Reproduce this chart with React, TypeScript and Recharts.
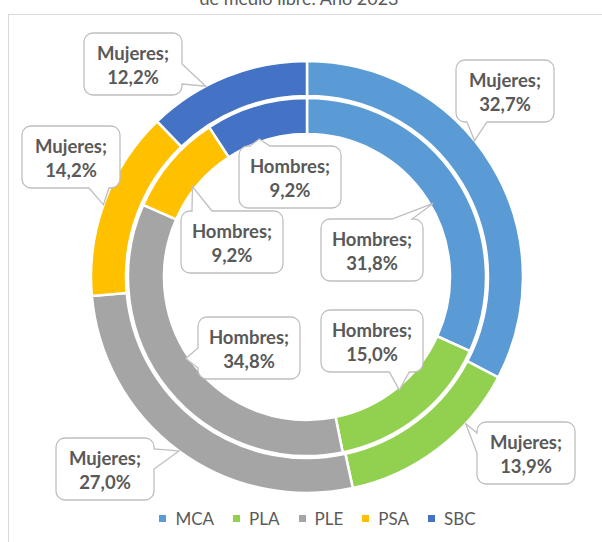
import { PieChart, Pie, Cell, Legend } from 'recharts';

const categories = ['MCA', 'PLA', 'PLE', 'PSA', 'SBC'];
const mujeres = [32.7, 13.9, 27.0, 14.2, 12.2];
const hombres = [31.8, 15.0, 34.8, 9.2, 9.2];
const colors = ['#5B9BD5', '#92D050', '#A5A5A5', '#FFC000', '#4472C4'];

// callout layout: box centre relative to the pie centre, and how far (degrees, clockwise)
// the pointer tip is moved off the slice's mid angle
const mujeresBoxPos = [[198, -186], [219, 176], [-202, 192], [-236, -120], [-174, -213]];
const mujeresTipShift = [-8, -10, 0, -1, -6];
const hombresBoxPos = [[65, -27], [65, 64], [-58, 71], [-75, -35], [-17, -100]];
const hombresTipShift = [2.5, -0.7, 5, -2, -2.5];

const mujeresData = categories.map((name, i) => ({ name, value: mujeres[i] }));
const hombresData = categories.map((name, i) => ({ name, value: hombres[i] }));

const RAD = Math.PI / 180;
const TEXT = '#595959';
const FONT = 'Lato, sans-serif';

function calloutPath(x: number, y: number, w: number, h: number, r: number, tx: number, ty: number) {
  const cx = x + w / 2;
  const cy = y + h / 2;
  const horiz = Math.abs(tx - cx) / (w / 2) > Math.abs(ty - cy) / (h / 2);
  const side = horiz ? (tx > cx ? 'right' : 'left') : ty > cy ? 'bottom' : 'top';
  const half = 10;
  const clamp = (v: number, lo: number, hi: number) => Math.min(Math.max(v, lo), hi);
  const bx = clamp(tx, x + r + half + 2, x + w - r - half - 2);
  const by = clamp(ty, y + r + half + 2, y + h - r - half - 2);
  let d = `M${x + r},${y}`;
  if (side === 'top') d += ` L${bx - half},${y} L${tx},${ty} L${bx + half},${y}`;
  d += ` L${x + w - r},${y} A${r},${r} 0 0 1 ${x + w},${y + r}`;
  if (side === 'right') d += ` L${x + w},${by - half} L${tx},${ty} L${x + w},${by + half}`;
  d += ` L${x + w},${y + h - r} A${r},${r} 0 0 1 ${x + w - r},${y + h}`;
  if (side === 'bottom') d += ` L${bx + half},${y + h} L${tx},${ty} L${bx - half},${y + h}`;
  d += ` L${x + r},${y + h} A${r},${r} 0 0 1 ${x},${y + h - r}`;
  if (side === 'left') d += ` L${x},${by + half} L${tx},${ty} L${x},${by - half}`;
  d += ` L${x},${y + r} A${r},${r} 0 0 1 ${x + r},${y} Z`;
  return d;
}

function makeLabel(group: string, boxPos: number[][], tipShift: number[], outer: boolean, boxW: number) {
  return (props: any) => {
    const { cx, cy, midAngle, innerRadius, outerRadius, index, value } = props;
    const r = outer ? outerRadius : innerRadius + 3;
    const a = (midAngle - tipShift[index]) * RAD;
    const tx = cx + r * Math.cos(-a);
    const ty = cy + r * Math.sin(-a);
    const bcx = cx + boxPos[index][0];
    const bcy = cy + boxPos[index][1];
    const boxH = 62;
    const x = bcx - boxW / 2;
    const y = bcy - boxH / 2;
    return (
      <g key={`${group}-${index}`}>
        <path d={calloutPath(x, y, boxW, boxH, 9, tx, ty)} fill="#fff" stroke="#BFBFBF" strokeWidth={1.3} />
        <text x={bcx} y={bcy - 4} textAnchor="middle" fill={TEXT} fontFamily={FONT} fontWeight={700} fontSize={18.5}>
          {group};
        </text>
        <text x={bcx} y={bcy + 20} textAnchor="middle" fill={TEXT} fontFamily={FONT} fontWeight={700} fontSize={18.5}>
          {value.toFixed(1).replace('.', ',')}%
        </text>
      </g>
    );
  };
}

function LegendRow() {
  return (
    <div style={{ display: 'flex', justifyContent: 'center', gap: 19, fontFamily: FONT, fontSize: 17, color: TEXT }}>
      {categories.map((c, i) => (
        <div key={c} style={{ display: 'flex', alignItems: 'center', gap: 9 }}>
          <span style={{ width: 7, height: 7, background: colors[i], display: 'inline-block' }} />
          <span>{c}</span>
        </div>
      ))}
    </div>
  );
}

export default function App() {
  return (
    <div style={{ position: 'absolute', left: 0, top: 0, width: 602, height: 542, overflow: 'hidden', background: '#fff' }}>
      <div
        style={{
          position: 'absolute',
          left: 8,
          top: 14,
          width: 640,
          height: 600,
          border: '1px solid #D9D9D9',
        }}
      />
      <div
        style={{
          position: 'absolute',
          left: 0,
          width: 598,
          top: -13,
          textAlign: 'center',
          fontFamily: FONT,
          fontSize: 18,
          color: TEXT,
        }}
      >
        de medio libre. Año 2023
      </div>
      <PieChart
        width={602}
        height={542}
        margin={{ top: 0, right: 0, bottom: 0, left: 0 }}
        style={{ position: 'absolute', left: 0, top: 0 }}
      >
        <Pie
          data={hombresData}
          dataKey="value"
          nameKey="name"
          cx={307}
          cy={277}
          innerRadius={143}
          outerRadius={179}
          startAngle={90}
          endAngle={-270}
          stroke="#fff"
          strokeWidth={2.5}
          labelLine={false}
          label={makeLabel('Hombres', hombresBoxPos, hombresTipShift, false, 102)}
          isAnimationActive={false}
        >
          {hombresData.map((d, i) => (
            <Cell key={`h-${d.name}`} fill={colors[i]} />
          ))}
        </Pie>
        <Pie
          data={mujeresData}
          dataKey="value"
          nameKey="name"
          cx={307}
          cy={277}
          innerRadius={181}
          outerRadius={216}
          startAngle={90}
          endAngle={-270}
          stroke="#fff"
          strokeWidth={2.5}
          labelLine={false}
          label={makeLabel('Mujeres', mujeresBoxPos, mujeresTipShift, true, 98)}
          isAnimationActive={false}
        >
          {mujeresData.map((d, i) => (
            <Cell key={`m-${d.name}`} fill={colors[i]} />
          ))}
        </Pie>
        <Legend
          verticalAlign="bottom"
          content={() => <LegendRow />}
          wrapperStyle={{ position: 'absolute', left: 10, width: 615, top: 508, bottom: 'auto' }}
        />
      </PieChart>
    </div>
  );
}
